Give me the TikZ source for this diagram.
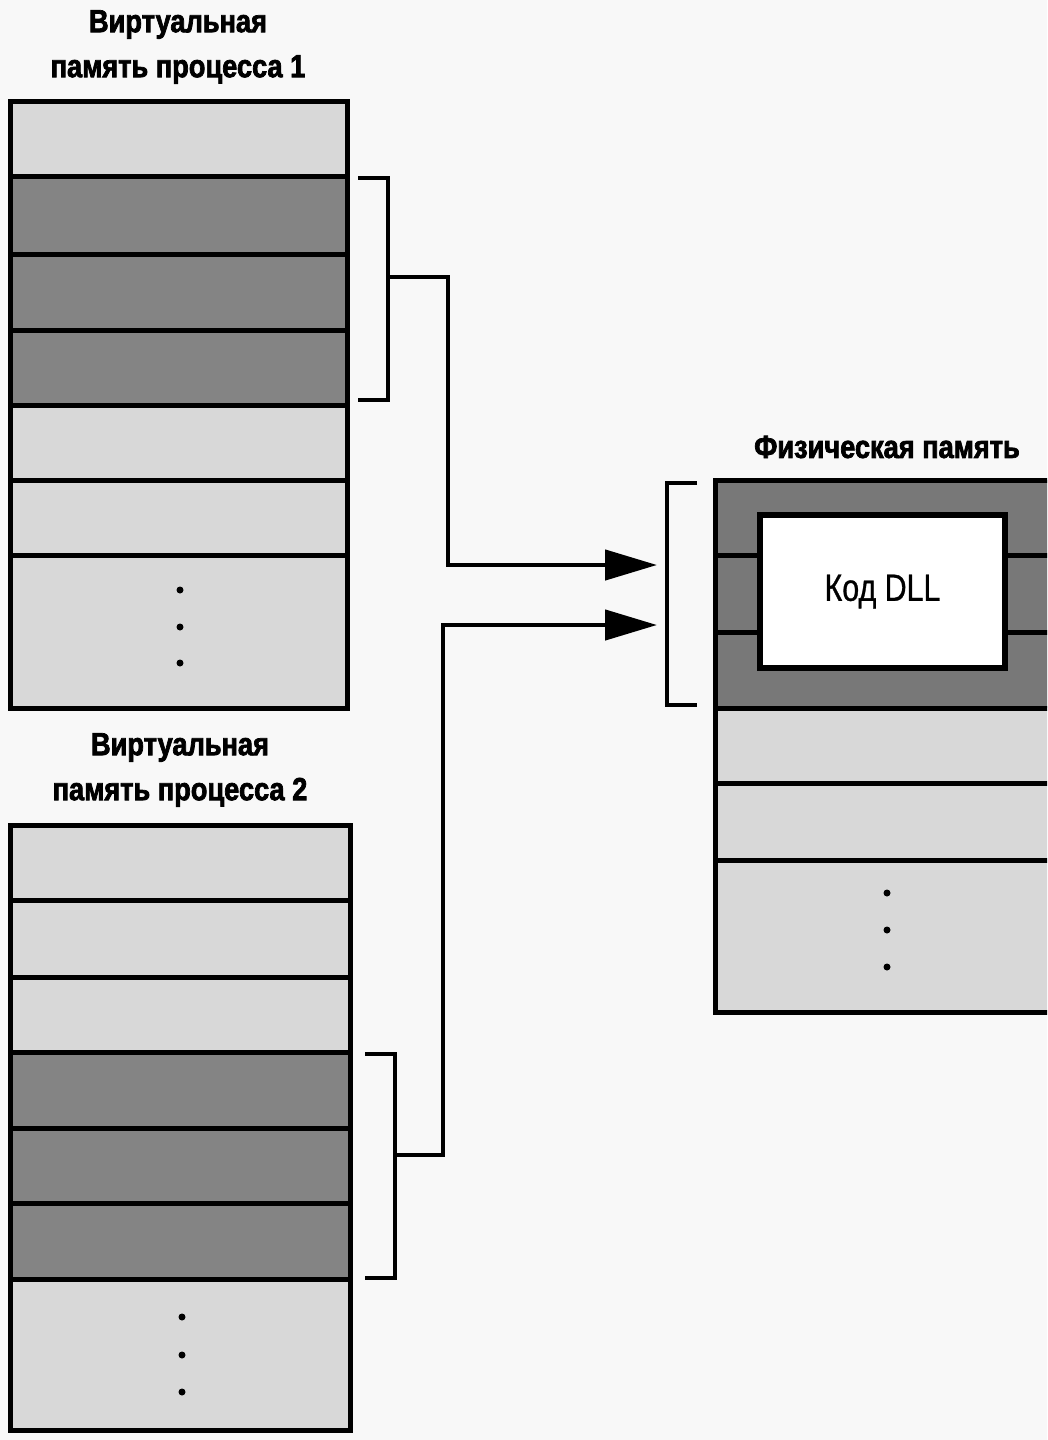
\documentclass[tikz,border=0pt]{standalone}
\usepackage{fontspec}
\setmainfont{Liberation Sans}
\newfontfamily\headfont[FakeStretch=0.85,BoldFeatures={FakeBold=2.2}]{Liberation Sans}
\newfontfamily\dllfont[FakeStretch=0.8,FakeBold=0.8]{Liberation Sans}
\usetikzlibrary{arrows.meta}
\definecolor{bgc}{RGB}{248,248,248}
\definecolor{lightc}{RGB}{216,216,216}
\definecolor{darkc}{RGB}{132,132,132}
\definecolor{pdarkc}{RGB}{120,120,120}
\begin{document}
\begin{tikzpicture}[x=1pt,y=-1pt,
  title/.style={align=center,font=\headfont\bfseries\fontsize{32}{45}\selectfont,inner sep=0pt},
  frame/.style={draw=black,line width=5pt,inner sep=0pt,outer sep=0pt},
  sep/.style={draw=black,line width=5pt},
  brk/.style={draw=black,line width=4.5pt},
  conn/.style={draw=black,line width=4.5pt,-{Triangle[length=52pt,width=30pt]}},
  dotm/.style={fill=black,circle,inner sep=0pt,minimum size=7pt}]
\fill[bgc] (0,0) rectangle (1047,1440);
\useasboundingbox (0,0) rectangle (1047,1440);
\clip (0,0) rectangle (1047,1440);

% ---- Process 1 ----
\node[title] (title1) at (178,47) {Виртуальная\\память процесса 1};
\fill[lightc] (10,101) rectangle (347,708);
\fill[darkc] (10,176) rectangle (347,405);
\foreach \yy in {176,254,330,405,480,555} \draw[sep] (10,\yy) -- (347,\yy);
\node[frame,minimum width=337pt,minimum height=607pt,anchor=north west] (vm1) at (10,101) {};
\foreach \yy in {590,627,663} \node[dotm] at (180,\yy) {};
\draw[brk] (358,178) -- (388,178) -- (388,400) -- (358,400);
\coordinate (b1) at (388,277);

% ---- Process 2 ----
\node[title] (title2) at (180,770) {Виртуальная\\память процесса 2};
\fill[lightc] (10,825) rectangle (350,1430);
\fill[darkc] (10,1052) rectangle (350,1279);
\foreach \yy in {900,977,1052,1128,1203,1279} \draw[sep] (10,\yy) -- (350,\yy);
\node[frame,minimum width=340pt,minimum height=605pt,anchor=north west] (vm2) at (10,825) {};
\foreach \yy in {1317,1355,1392} \node[dotm] at (182,\yy) {};
\draw[brk] (365,1054) -- (395,1054) -- (395,1278) -- (365,1278);
\coordinate (b2) at (395,1155);

% ---- Physical memory ----
\node[title] (title3) at (887,447) {Физическая память};
\fill[lightc] (715,480) rectangle (1060,1012);
\fill[pdarkc] (715,480) rectangle (1060,708);
\foreach \yy in {555,632,708,783,860} \draw[sep] (715,\yy) -- (1060,\yy);
\node[frame,minimum width=345pt,minimum height=532pt,anchor=north west] (pm) at (715,480) {};
\foreach \yy in {893,930,967} \node[dotm] at (887,\yy) {};
\node[frame,line width=6pt,fill=white,minimum width=245pt,minimum height=153pt,anchor=north west] (dll) at (760,515) {};
\node[font=\dllfont\fontsize{38}{40}\selectfont,inner sep=0pt] (dlltext) at (dll.center) {Код DLL};
\draw[brk] (697,483) -- (667,483) -- (667,705) -- (697,705);
\coordinate (t1) at (657,565);
\coordinate (t2) at (657,625);

% ---- Connectors ----
\draw[conn] (b1) -- (448,277) |- (t1);
\draw[conn] (b2) -- (443,1155) |- (t2);
\end{tikzpicture}
\end{document}
